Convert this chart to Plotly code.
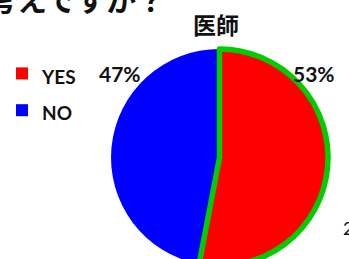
import plotly.graph_objects as go

labels = ["YES", "NO"]
values = [53, 47]
colors = ["#FF0000", "#0000FF"]
border_colors = ["#00CC00", "rgba(0,0,0,0)"]
title_text = "医師"
question_text = "お考えですか？"
page_number = "2"

W, H = 349, 280
ML, MR, MT, MB = 111, 21, 49, 14
PW, PH = W - ML - MR, H - MT - MB


def px(x):
    return (x - ML) / PW


def py(y):
    return 1 - (y - MT) / PH


fig = go.Figure()
fig.add_trace(go.Pie(
    labels=[f"<span style='font-size:19px'>{l}</span>" for l in labels],
    values=values, sort=False, direction="clockwise", rotation=0,
    marker=dict(colors=colors, line=dict(width=0)),
    textinfo="none", hoverinfo="skip", showlegend=True,
))
fig.add_trace(go.Pie(
    labels=labels, values=values, sort=False, direction="clockwise", rotation=0,
    marker=dict(colors=["rgba(0,0,0,0)", "rgba(0,0,0,0)"],
                line=dict(color=border_colors, width=[5.5, 0])),
    textinfo="none", hoverinfo="skip", showlegend=False,
))

total = sum(values)
pct_pos = {"YES": (314, 73), "NO": (120, 73)}
bold = dict(family="Lato", size=21, color="#111111", weight="bold")
for l, v in zip(labels, values):
    x, y = pct_pos[l]
    fig.add_annotation(text=f"{round(100 * v / total)}%", x=px(x), y=py(y),
                       xref="paper", yref="paper", showarrow=False,
                       xanchor="center", yanchor="middle", font=bold)

fig.add_annotation(text=title_text, x=px(216), y=py(24), xref="paper", yref="paper",
                   showarrow=False, xanchor="center", yanchor="middle",
                   font=dict(family="Noto Sans CJK JP", size=23, color="#111111", weight="bold"))
fig.add_annotation(text=question_text, x=px(168), y=py(-2), xref="paper", yref="paper",
                   showarrow=False, xanchor="right", yanchor="middle",
                   font=dict(family="Noto Sans CJK JP", size=30, color="#111111", weight="bold"))
fig.add_annotation(text=page_number, x=px(341), y=py(228), xref="paper", yref="paper",
                   showarrow=False, xanchor="left", yanchor="middle",
                   font=dict(family="Lato", size=18, color="#111111"))

fig.update_layout(
    width=W, height=H, margin=dict(l=ML, r=MR, t=MT, b=MB, autoexpand=False),
    paper_bgcolor="white", plot_bgcolor="white",
    showlegend=True,
    legend=dict(x=px(2), y=py(50), xanchor="left", yanchor="top",
                font=dict(family="Lato", size=26, color="#111111", weight="bold"),
                bgcolor="rgba(0,0,0,0)"),
)

fig.write_html("out.html", config={"displayModeBar": False}, post_script=(
    "document.body.style.margin='0';"
    "document.body.style.overflow='hidden';"
    "document.documentElement.style.overflow='hidden';"
))
